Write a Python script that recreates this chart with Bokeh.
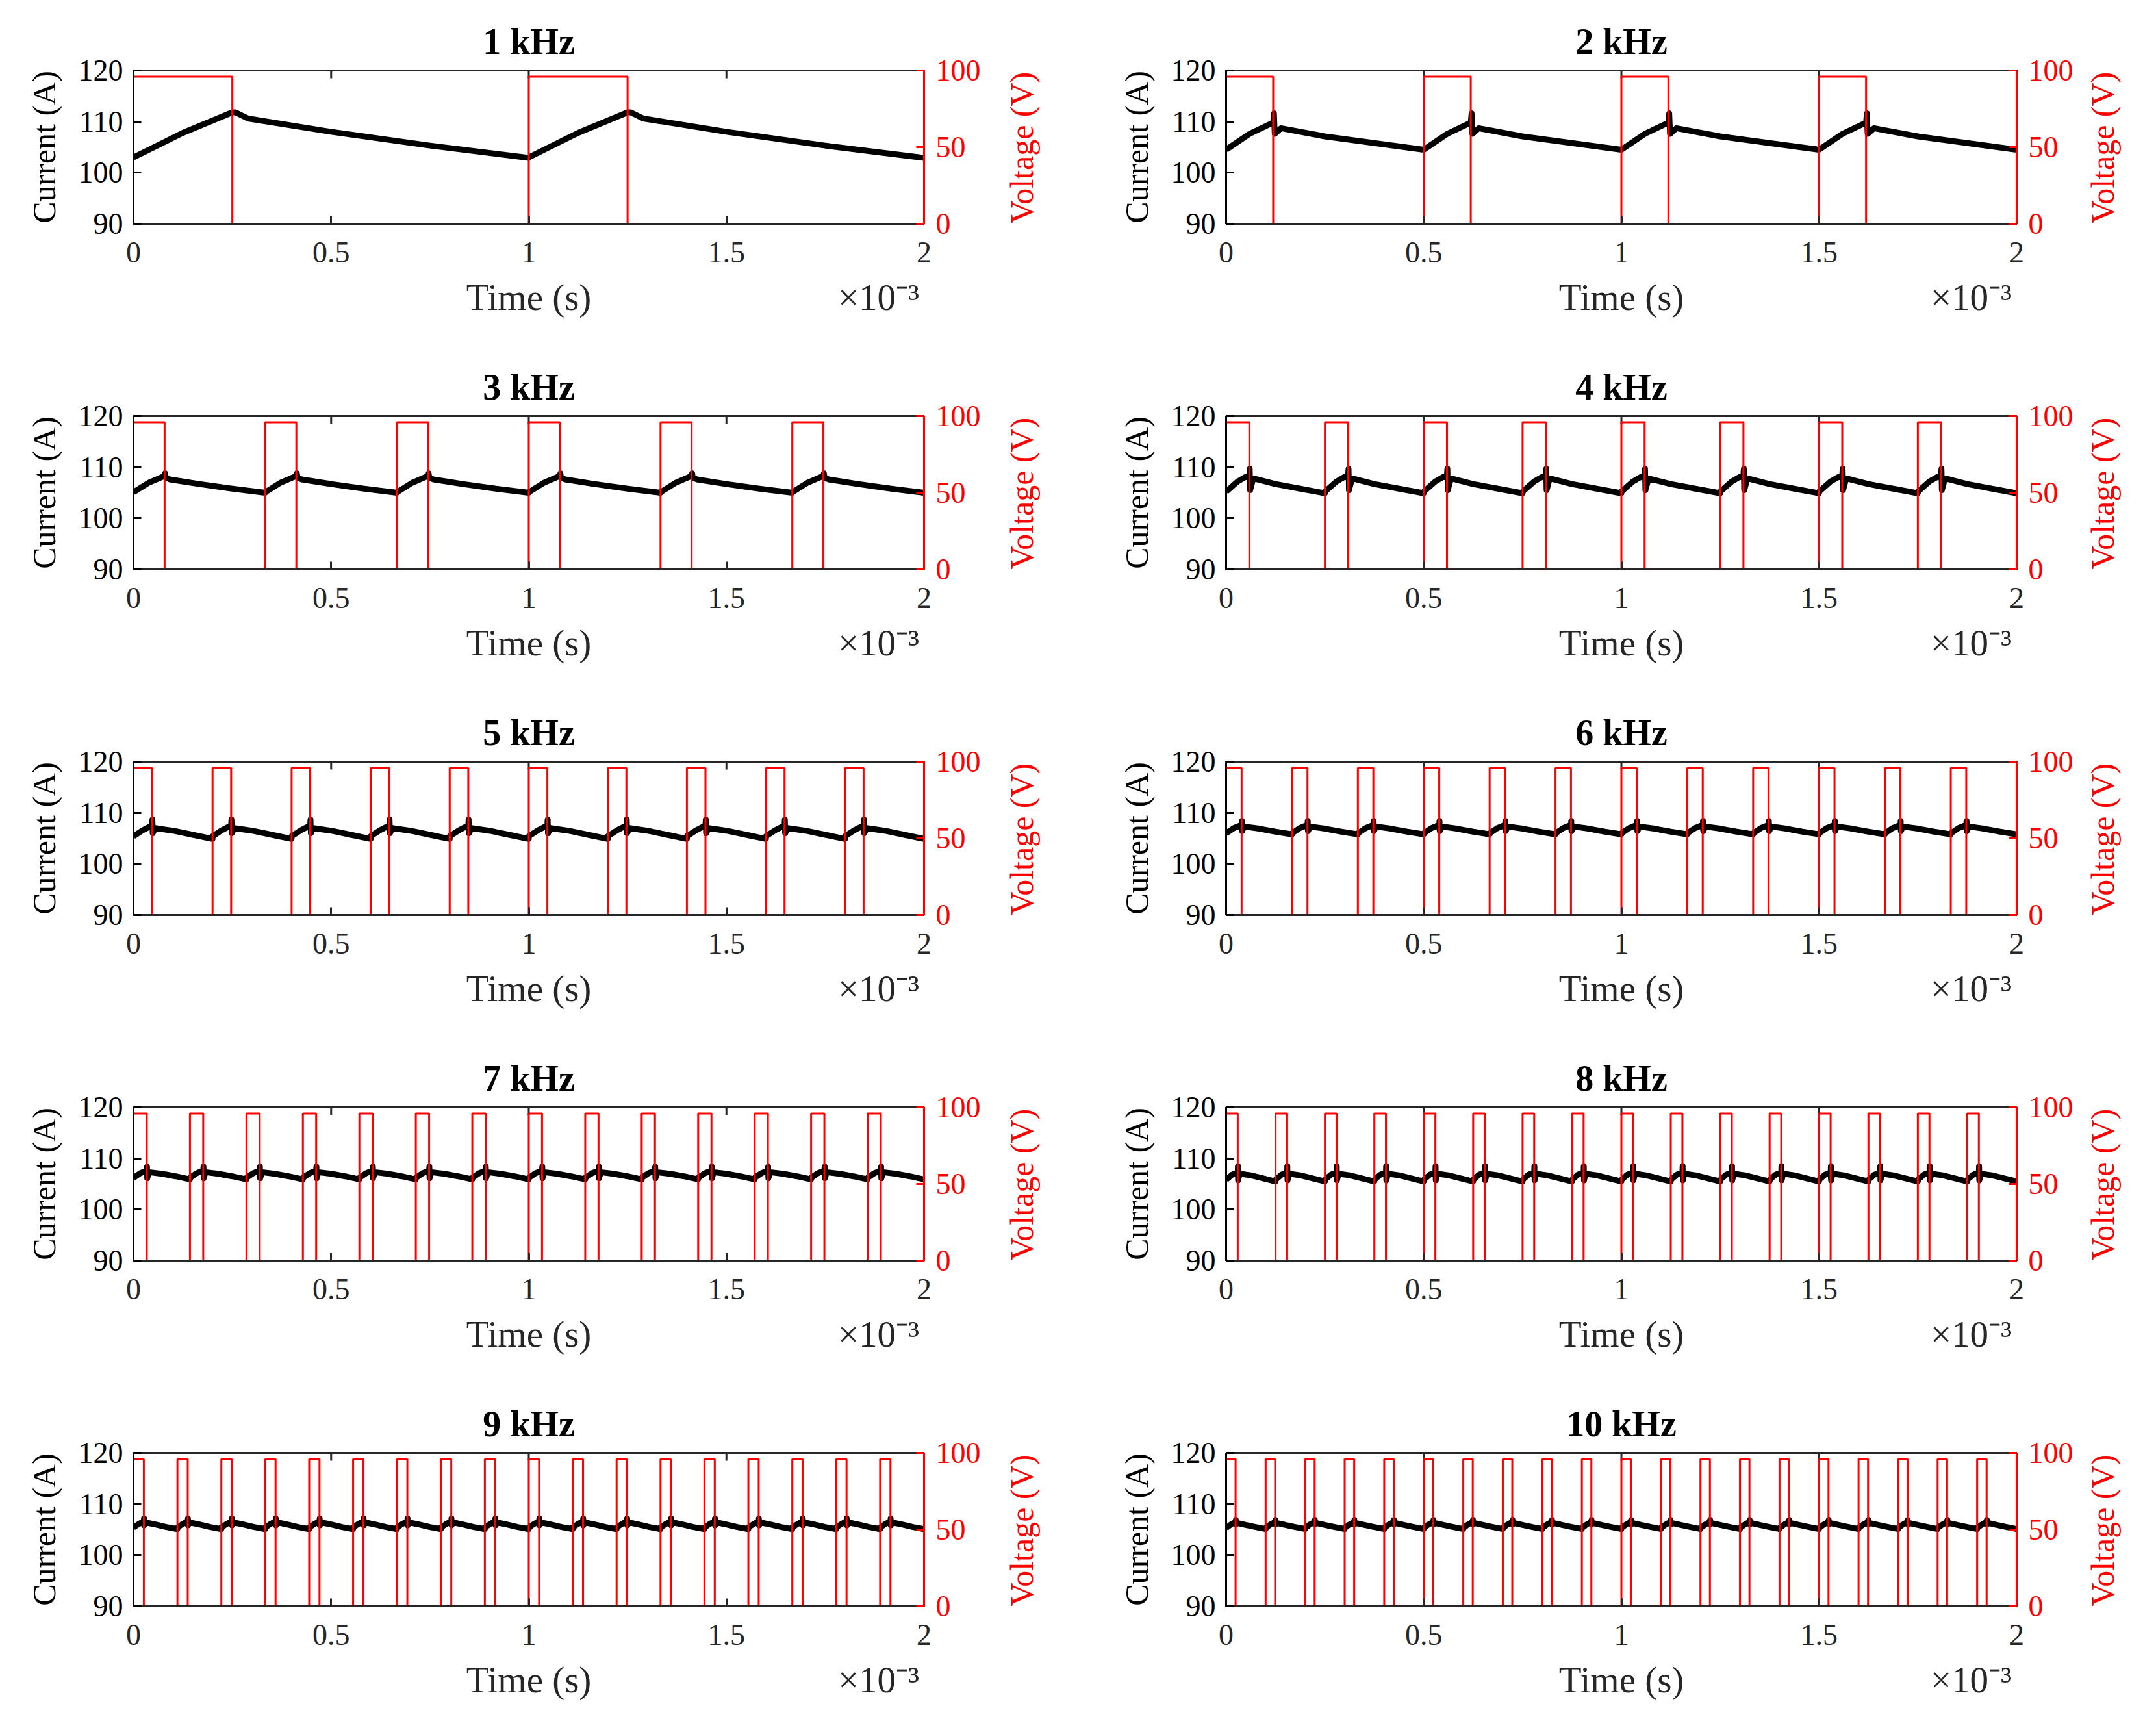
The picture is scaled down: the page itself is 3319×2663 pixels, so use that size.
import numpy as np
from bokeh.plotting import figure
from bokeh.models import Range1d, LinearAxis, FixedTicker
from bokeh.layouts import gridplot
from bokeh.embed import file_html
from bokeh.resources import INLINE

# ---------------- data ----------------
panel_titles = ["1 kHz", "2 kHz", "3 kHz", "4 kHz", "5 kHz",
                "6 kHz", "7 kHz", "8 kHz", "9 kHz", "10 kHz"]
switching_freq_khz = [1, 2, 3, 4, 5, 6, 7, 8, 9, 10]
duty_cycle = [0.25, 0.238, 0.236, 0.235, 0.235, 0.235, 0.235, 0.235, 0.235, 0.24]
pulse_voltage = [96, 96, 96, 96, 96, 96, 96, 96, 96, 96]

# current (A) over one switching period, at: start, half of on-time, end of on-time (peak),
# shortly after peak, half period, three quarter period, end of period
current_start = [103.0, 104.5, 105.1, 105.2, 105.4, 106.0, 106.2, 105.8, 105.4, 105.3]
current_half_on = [107.8, 107.6, 107.0, 107.2, 106.6, 107.0, 107.1, 106.8, 106.1, 106.0]
current_peak = [111.8, 109.8, 108.3, 108.5, 107.5, 107.6, 107.6, 107.3, 106.6, 106.5]
current_after_peak = [110.6, 108.7, 107.6, 107.8, 107.0, 107.3, 107.3, 107.0, 106.4, 106.3]
current_half_period = [108.0, 107.1, 106.7, 106.7, 106.5, 106.9, 107.0, 106.7, 106.0, 105.9]
current_three_quarter = [105.3, 105.8, 105.8, 105.8, 105.7, 106.3, 106.5, 106.1, 105.5, 105.5]
current_end = [102.9, 104.5, 105.0, 104.9, 104.9, 105.8, 105.9, 105.5, 105.1, 105.1]
# switching spike on the current at the end of the on-time
spike_up = [0.0, 1.8, 0.5, 1.2, 1.2, 0.8, 0.8, 1.2, 0.6, 0.4]
spike_down = [0.0, 2.2, 0.3, 3.0, 1.5, 1.2, 1.5, 1.6, 0.8, 0.5]

time_ticks = [0, 0.5, 1, 1.5, 2]
time_tick_labels = ["0", "0.5", "1", "1.5", "2"]
current_ticks = [90, 100, 110, 120]
voltage_ticks = [0, 50, 100]
time_label = "Time (s)"
time_exponent = "×10⁻³"
current_label = "Current (A)"
voltage_label = "Voltage (V)"

# ---------------- styling ----------------
FONT = "Liberation Serif"
TICK_FS = "46px"
XLABEL_FS = "57px"
YLABEL_FS = "50px"
TITLE_FS = "56px"
DARK = "#262626"
RED = "#ff0000"
FRAME_H = 236
TOP = 108


def style_axis(ax, color, label_fs):
    ax.major_tick_in = 12
    ax.major_tick_out = 0
    ax.minor_tick_line_color = None
    ax.axis_line_width = 3
    ax.major_tick_line_width = 3
    ax.axis_line_color = color
    ax.major_tick_line_color = color
    ax.major_label_text_font = FONT
    ax.major_label_text_font_size = TICK_FS
    ax.major_label_text_color = color
    ax.axis_label_text_font = FONT
    ax.axis_label_text_font_size = label_fs
    ax.axis_label_text_font_style = "normal"
    ax.axis_label_text_color = color


def label_axis(ax, color, fs, standoff):
    # an axis that only carries one text (no line, no ticks)
    ax.axis_line_color = None
    ax.major_tick_line_color = None
    ax.minor_tick_line_color = None
    ax.major_tick_in = 0
    ax.major_tick_out = 0
    ax.major_label_text_font = FONT
    ax.major_label_text_font_size = fs
    ax.major_label_text_color = color
    ax.major_label_standoff = standoff


def build_panel(i, left_col, last_row):
    f = switching_freq_khz[i]
    d = duty_cycle[i]
    period = 1.0 / f
    n = int(round(2 * f))
    eps = 0.004
    phases = np.array([0.0, d / 2, d, d + eps, d + 2 * eps, d + 0.04, 0.5, 0.75, 1.0])
    vals = np.array([current_start[i], current_half_on[i], current_peak[i],
                     current_peak[i] + spike_up[i], current_peak[i] - spike_down[i],
                     current_after_peak[i], current_half_period[i],
                     current_three_quarter[i], current_end[i]])
    t_i, c_i, t_v, v_v = [], [], [], []
    for k in range(n):
        t_i.extend(((k + phases) * period).tolist())
        c_i.extend(vals.tolist())
        V = pulse_voltage[i]
        t_v.extend([k * period, k * period, (k + d) * period, (k + d) * period, (k + 1) * period])
        v_v.extend([0, V, V, 0, 0])

    width = 1652 if left_col else 1651
    height = 526 if last_row else 532
    p = figure(width=width, height=height, output_backend="svg", toolbar_location=None,
               x_range=Range1d(0, 2), y_range=Range1d(90, 120),
               min_border_left=205 if left_col else 235,
               min_border_right=230 if left_col else 199,
               min_border_top=TOP, min_border_bottom=height - TOP - FRAME_H)
    p.extra_y_ranges = {"v": Range1d(0, 100), "lab": Range1d(0, 1)}
    p.outline_line_color = DARK
    p.outline_line_width = 3
    p.grid.visible = False
    p.background_fill_color = "white"
    p.border_fill_color = "white"

    # box ticks on the top edge
    p.scatter(time_ticks, [120] * len(time_ticks), marker="dash", angle=np.pi / 2,
              size=24, line_width=3, line_color=DARK)

    p.line(t_i, c_i, line_color="black", line_width=9, line_join="round")
    p.line(t_v, v_v, line_color=RED, line_width=3, y_range_name="v")

    # title
    p.title.text = panel_titles[i]
    p.title.align = "center"
    p.title.text_font = FONT
    p.title.text_font_size = TITLE_FS
    p.title.text_font_style = "bold"
    p.title.text_color = "black"
    try:
        p.title.standoff = 28
    except Exception:
        pass

    # bottom axis (ticks and tick labels)
    xa = p.xaxis[0]
    xa.ticker = FixedTicker(ticks=time_ticks)
    xa.major_label_overrides = {t: s for t, s in zip(time_ticks, time_tick_labels)}
    style_axis(xa, DARK, XLABEL_FS)
    xa.major_label_standoff = 28

    # second bottom row: axis title and the x10^-3 multiplier on one line
    xb = LinearAxis(ticker=FixedTicker(ticks=[1, 1.885]))
    xb.major_label_overrides = {1: time_label, 1.885: time_exponent}
    label_axis(xb, DARK, XLABEL_FS, 19)
    p.add_layout(xb, "below")

    # left axis
    ya = p.yaxis[0]
    ya.ticker = FixedTicker(ticks=current_ticks)
    ya.axis_label = current_label
    style_axis(ya, "black", YLABEL_FS)
    ya.major_label_standoff = 16
    ya.axis_label_standoff = 22

    # right axis (voltage)
    ra = LinearAxis(y_range_name="v", ticker=FixedTicker(ticks=voltage_ticks))
    style_axis(ra, RED, YLABEL_FS)
    ra.major_label_standoff = 18
    p.add_layout(ra, "right")

    # right axis title, reading bottom to top like the left one
    rl = LinearAxis(y_range_name="lab", ticker=FixedTicker(ticks=[0]))
    rl.major_label_overrides = {0: voltage_label}
    label_axis(rl, RED, YLABEL_FS, 60 if left_col else 42)
    rl.major_label_orientation = np.pi / 2
    p.add_layout(rl, "right")
    return p


rows = []
for r in range(5):
    rows.append([build_panel(2 * r, True, r == 4), build_panel(2 * r + 1, False, r == 4)])

grid = gridplot(rows, toolbar_location=None)
open("out.html", "w").write(file_html(grid, INLINE))
